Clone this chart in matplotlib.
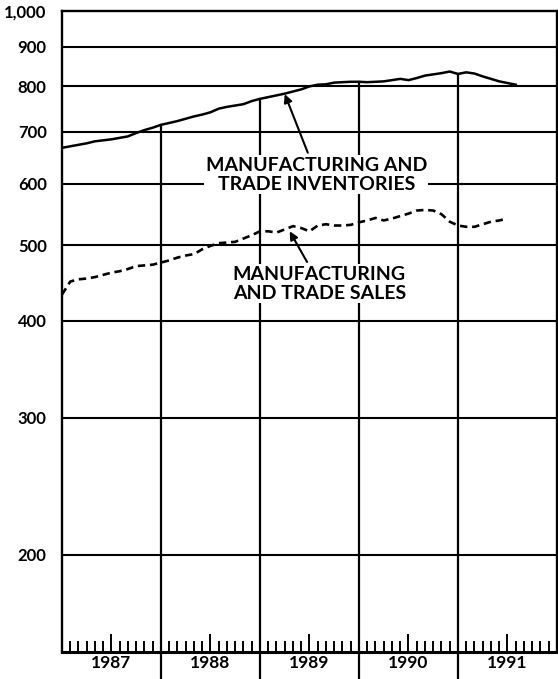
import numpy as np
import matplotlib
matplotlib.use('Agg')
import matplotlib.pyplot as plt

# monthly values, billions of dollars, starting Jan 1987
inventories = [667, 670, 673, 676, 680, 682, 684, 687, 690, 697, 703, 708,
               714, 718, 722, 727, 732, 736, 741, 749, 753, 756, 759, 766,
               771, 775, 779, 783, 788, 793, 800, 804, 805, 809, 810, 811,
               811, 810, 811, 812, 815, 818, 815, 820, 826, 829, 832, 836,
               830, 834, 831, 824, 818, 812, 808, 804]
sales = [432, 449, 452, 453, 455, 458, 461, 463, 466, 470, 471, 472,
         475, 478, 482, 485, 487, 494, 499, 503, 504, 505, 510, 515,
         521, 521, 519, 524, 529, 526, 521, 530, 532, 530, 530, 531,
         535, 538, 542, 538, 541, 545, 549, 554, 555, 554, 548, 536,
         530, 528, 528, 532, 536, 538, 541]
years = [1987, 1988, 1989, 1990, 1991]
grid_values = [200, 300, 400, 500, 600, 700, 800, 900, 1000]
grid_labels = ['200', '300', '400', '500', '600', '700', '800', '900', '1,000']

plt.rcParams['font.family'] = ['Lato', 'DejaVu Sans']

fig = plt.figure(figsize=(5.58, 6.79), dpi=100)
ax = fig.add_axes([62 / 558, 27 / 679, 495 / 558, 641 / 679])

x_inv = 1987 + np.arange(len(inventories)) / 12
x_sales = 1987 + np.arange(len(sales)) / 12

ax.set_yscale('log')
ax.set_xlim(1987, 1992)
ax.set_ylim(150, 1000)

# horizontal grid
for v in grid_values[:-1]:
    ax.axhline(v, color='black', lw=1.5, zorder=1)

# year dividers drop from the inventories curve through the axis
for yr in years[1:]:
    top = np.interp(yr, x_inv, inventories)
    ax.plot([yr, yr], [top, 150], color='black', lw=1.6, zorder=1)
for yr in years[1:]:
    ax.plot([yr, yr], [0, -0.045], color='black', lw=1.6,
            transform=ax.get_xaxis_transform(), clip_on=False)

ax.plot(x_inv, inventories, color='black', lw=1.8, zorder=3)
ax.plot(x_sales, sales, color='black', lw=1.9, dashes=(2.8, 1.8), zorder=3)

ax.set_yticks(grid_values)
ax.set_yticklabels(grid_labels)
ax.yaxis.set_minor_locator(matplotlib.ticker.NullLocator())
ax.tick_params(axis='y', length=0, pad=11, labelsize=12)
for lab in ax.get_yticklabels():
    lab.set_fontweight('bold')

mid = [y + 0.5 for y in years]
months = [y + m / 12 for y in years for m in range(1, 12) if m != 6]
ax.set_xticks(mid)
ax.set_xticklabels([str(y) for y in years], fontweight='bold', fontsize=12.5)
ax.set_xticks(months, minor=True)
ax.tick_params(axis='x', which='major', direction='in', length=13, width=1.4, pad=2)
ax.tick_params(axis='x', which='minor', direction='in', length=8, width=1.4)

for s in ['left', 'right', 'top']:
    ax.spines[s].set_linewidth(1.7)
ax.spines['bottom'].set_linewidth(2.2)

box = dict(facecolor='white', edgecolor='none', pad=1)
ax.annotate('MANUFACTURING AND\nTRADE INVENTORIES', xy=(1989.25, 782),
            xytext=(1989.57, 616), ha='center', va='center', fontsize=14,
            fontweight='bold', linespacing=1.15, bbox=box, zorder=4,
            arrowprops=dict(arrowstyle='-|>', color='black', lw=1.5,
                            mutation_scale=12, shrinkA=2, shrinkB=0))
ax.annotate('MANUFACTURING\nAND TRADE SALES', xy=(1989.30, 521),
            xytext=(1989.6, 446), ha='center', va='center', fontsize=14,
            fontweight='bold', linespacing=1.15, bbox=box, zorder=4,
            arrowprops=dict(arrowstyle='-|>', color='black', lw=1.5,
                            mutation_scale=12, shrinkA=2, shrinkB=0))

fig.savefig('out.png', dpi=100)
